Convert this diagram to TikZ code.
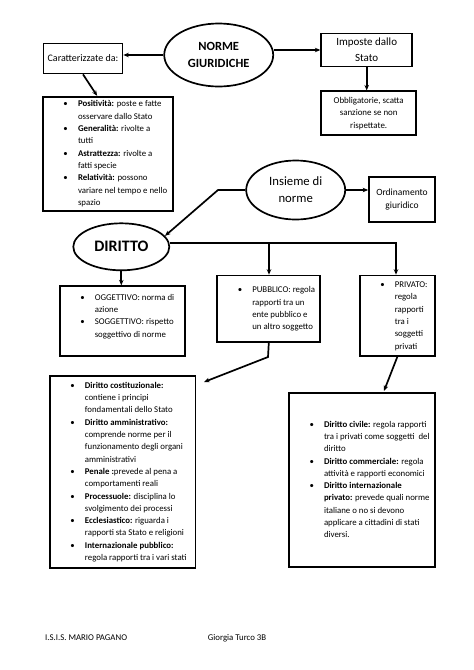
\documentclass[tikz,border=0pt]{standalone}
\usepackage{fontspec}
\setmainfont{Carlito}
\usetikzlibrary{shapes.geometric,arrows.meta}
\newcommand\blist[2]{\makebox[#1][l]{\begin{tabular}{@{\hspace{20.5pt}}p{14.5pt}@{}l@{}}#2\end{tabular}}}
\newcommand\bu{\textbullet &}
\begin{document}
\begin{tikzpicture}[x=1pt,y=-1pt,
  box/.style={draw=black,line width=1.7pt,rectangle,inner sep=0pt,align=center},
  oval/.style={draw=black,line width=1.7pt,ellipse,inner sep=0pt,align=center},
  conn/.style={draw=black,line width=1.7pt},
  arr/.style={conn,-{Stealth[length=5.5pt,width=4.5pt]}},
  small/.style={font=\fontsize{8.8}{12.3}\selectfont}]
\useasboundingbox[fill=white] (0,0) rectangle (474,670);

% top row
\node[oval,minimum width=109,minimum height=63,font=\fontsize{12.5}{17.7}\selectfont\bfseries] (ng) at (218.7,55) {NORME\\GIURIDICHE};
\node[box,minimum width=79,minimum height=30,font=\fontsize{10}{12}\selectfont] (car) at (83,58.5) {Caratterizzate da:};
\node[box,minimum width=91,minimum height=33,font=\fontsize{11}{15.7}\selectfont] (imp) at (366.7,50) {Imposte dallo\\Stato};
\node[box,minimum width=95,minimum height=44,font=\fontsize{8.9}{12.5}\selectfont] (obb) at (368.7,113.3) {Obbligatorie, scatta\\sanzione se non\\rispettate.};
\node[box,small,minimum width=130,minimum height=114] (pos) at (108,153.7) {\blist{130pt}{%
\bu \textbf{Positività:} poste e fatte\\
 & osservare dallo Stato\\
\bu \textbf{Generalità:} rivolte a\\
 & tutti\\
\bu \textbf{Astrattezza:} rivolte a\\
 & fatti specie\\
\bu \textbf{Relatività:} possono\\
 & variare nel tempo e nello\\
 & spazio}};

% middle
\node[oval,minimum width=99,minimum height=59,font=\fontsize{12.7}{17}\selectfont] (ins) at (295.7,190) {Insieme di\\norme};
\node[box,minimum width=66,minimum height=45,font=\fontsize{9.5}{13.3}\selectfont] (ord) at (402,199.7) {Ordinamento\\giuridico};
\node[oval,minimum width=96,minimum height=47,font=\fontsize{16}{18}\selectfont\bfseries] (dir) at (121.3,246.8) {DIRITTO};

\node[box,small,minimum width=125,minimum height=70] (ogg) at (122.3,321.2) {\blist{125pt}{%
\bu OGGETTIVO: norma di\\
 & azione\\
\bu SOGGETTIVO: rispetto\\
 & soggettivo di norme\\[10pt]}};
\node[box,small,minimum width=103,minimum height=66.5] (pub) at (268.8,308.8) {\blist{103pt}{%
\bu PUBBLICO: regola\\
 & rapporti tra un\\
 & ente pubblico e\\
 & un altro soggetto}};
\node[box,small,minimum width=75,minimum height=80.5] (pri) at (397.3,315.8) {\blist{75pt}{%
\bu PRIVATO:\\
 & regola\\
 & rapporti\\
 & tra i\\
 & soggetti\\
 & privati}};

% bottom
\node[box,small,minimum width=145.5,minimum height=191.5] (lb) at (122.7,472) {\blist{145.5pt}{%
\bu \textbf{Diritto costituzionale:}\\
 & contiene i principi\\
 & fondamentali dello Stato\\
\bu \textbf{Diritto amministrativo:}\\
 & comprende norme per il\\
 & funzionamento degli organi\\
 & amministrativi\\
\bu \textbf{Penale :}prevede al pena a\\
 & comportamenti reali\\
\bu \textbf{Processuole:} disciplina lo\\
 & svolgimento dei processi\\
\bu \textbf{Ecclesiastico:} riguarda i\\
 & rapporti sta Stato e religioni\\
\bu \textbf{Internazionale pubblico:}\\
 & regola rapporti tra i vari stati}};
\node[box,small,minimum width=146,minimum height=174] (rb) at (362,480) {\blist{146pt}{%
\bu \textbf{Diritto civile:} regola rapporti\\
 & tra i privati come soggetti\ \ del\\
 & diritto\\
\bu \textbf{Diritto commerciale:} regola\\
 & attività e rapporti economici\\
\bu \textbf{Diritto internazionale}\\
 & \textbf{privato:} prevede quali norme\\
 & italiane o no si devono\\
 & applicare a cittadini di stati\\
 & diversi.}};

% footer
\node[small,anchor=base west,inner sep=0pt] (f1) at (45,640) {I.S.I.S. MARIO PAGANO};
\node[small,anchor=base west,inner sep=0pt] (f2) at (207.7,640) {Giorgia Turco 3B};

% coordinates
\coordinate (k1) at (218,190);
\coordinate (k2) at (396,243);
\coordinate (k3) at (269,243);
\coordinate (k4) at (268,357);
\coordinate (lbtip) at (204,382);
\coordinate (rbtip) at (384,391);

% connectors
\draw[arr] (ng.west) -- (ng.west -| car.east);
\draw[arr] (ng.east |- imp.west) -- (imp.west);
\draw[arr] (imp.south) -- (imp.south |- obb.north);
\draw[arr] (car.south) -- ([xshift=55pt]pos.north west);
\draw[arr] (ins.east) -- (ins.east -| ord.west);
\draw[arr] (ins.west) -- (k1) -- (dir.14);
\draw[arr] (k2 -| dir.east) -- (k2) -- (k2 |- pri.north);
\draw[arr] (k3) -- (k3 |- pub.north);
\draw[arr] (dir.south) -- (dir.south |- ogg.north);
\draw[arr] (pub.south) -- (k4) -- (lbtip);
\draw[arr] (pri.south) -- (rbtip);
\end{tikzpicture}
\end{document}
